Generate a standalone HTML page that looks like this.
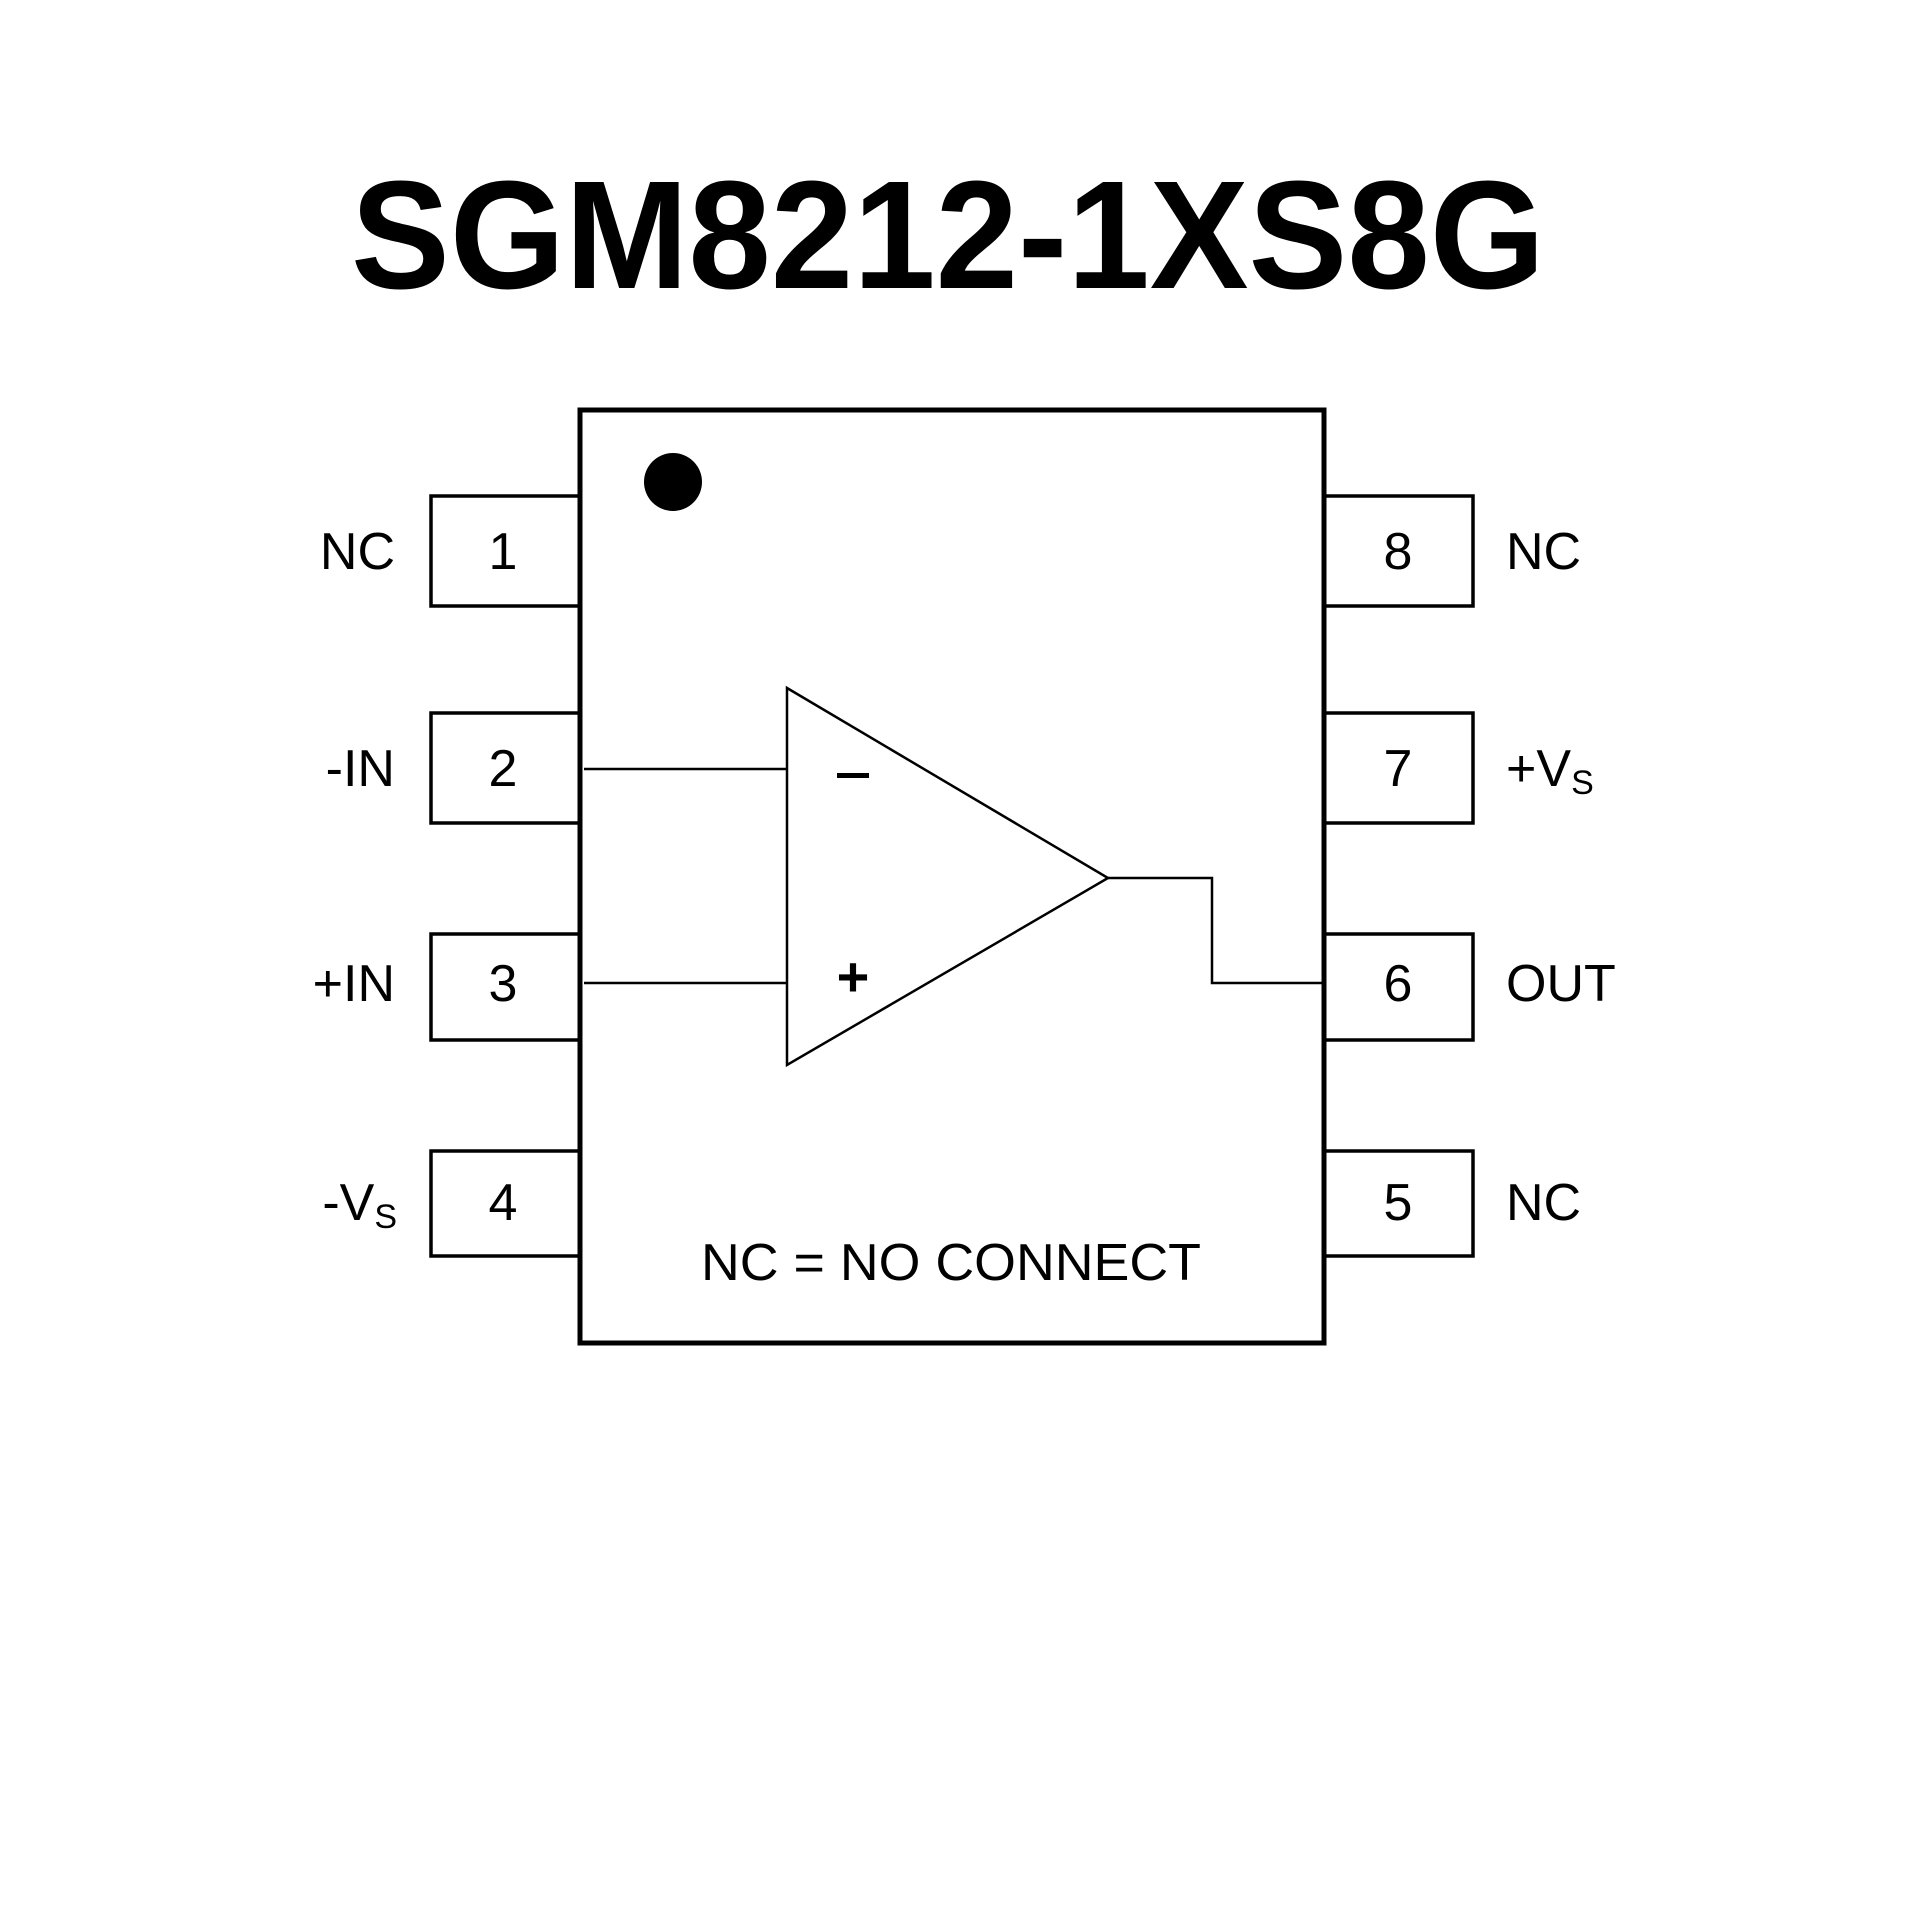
<!DOCTYPE html>
<html><head><meta charset="utf-8"><style>html,body{margin:0;padding:0;background:#fff}svg{display:block}</style></head>
<body>
<svg width="1920" height="1920" viewBox="0 0 1920 1920" xmlns="http://www.w3.org/2000/svg" font-family="'Liberation Sans', sans-serif">
<rect width="1920" height="1920" fill="#fff"/>
<text x="948" y="288" font-size="154" font-weight="bold" text-anchor="middle" textLength="1194" lengthAdjust="spacingAndGlyphs">SGM8212-1XS8G</text>
<g fill="none" stroke="#000" stroke-width="3.5">
<rect x="431" y="496" width="149" height="110"/>
<rect x="431" y="713" width="149" height="110"/>
<rect x="431" y="934" width="149" height="106"/>
<rect x="431" y="1151" width="149" height="105"/>
<rect x="1324" y="496" width="149" height="110"/>
<rect x="1324" y="713" width="149" height="110"/>
<rect x="1324" y="934" width="149" height="106"/>
<rect x="1324" y="1151" width="149" height="105"/>
</g>
<rect x="580" y="410" width="744" height="933" fill="#fff" stroke="#000" stroke-width="5"/>
<polygon points="787,688 787,1065 1108,878" fill="none" stroke="#000" stroke-width="2.5"/>
<polyline points="584,769 787,769" fill="none" stroke="#000" stroke-width="2.5"/>
<polyline points="584,983 787,983" fill="none" stroke="#000" stroke-width="2.5"/>
<polyline points="1108,878 1212,878 1212,983 1322,983" fill="none" stroke="#000" stroke-width="2.5"/>
<circle cx="673" cy="482" r="29" fill="#000"/>
<rect x="837" y="773" width="32" height="5" fill="#000"/>
<text x="853" y="996" font-size="56" font-weight="bold" text-anchor="middle">+</text>
<g font-size="52" text-anchor="middle">
<text x="503" y="569">1</text><text x="503" y="786">2</text><text x="503" y="1001">3</text><text x="503" y="1220">4</text>
<text x="1398" y="569">8</text><text x="1398" y="786">7</text><text x="1398" y="1001">6</text><text x="1398" y="1220">5</text>
</g>
<g font-size="52" text-anchor="end">
<text x="395" y="569">NC</text><text x="395" y="786">-IN</text><text x="395" y="1001">+IN</text>
<text x="397" y="1220">-V<tspan font-size="34" dy="8">S</tspan></text>
</g>
<g font-size="52">
<text x="1506" y="569">NC</text>
<text x="1506" y="786">+V<tspan font-size="34" dy="8">S</tspan></text>
<text x="1506" y="1001">OUT</text>
<text x="1506" y="1220">NC</text>
</g>
<text x="951" y="1280" font-size="52" text-anchor="middle" textLength="500" lengthAdjust="spacingAndGlyphs">NC = NO CONNECT</text>
</svg>
</body></html>
